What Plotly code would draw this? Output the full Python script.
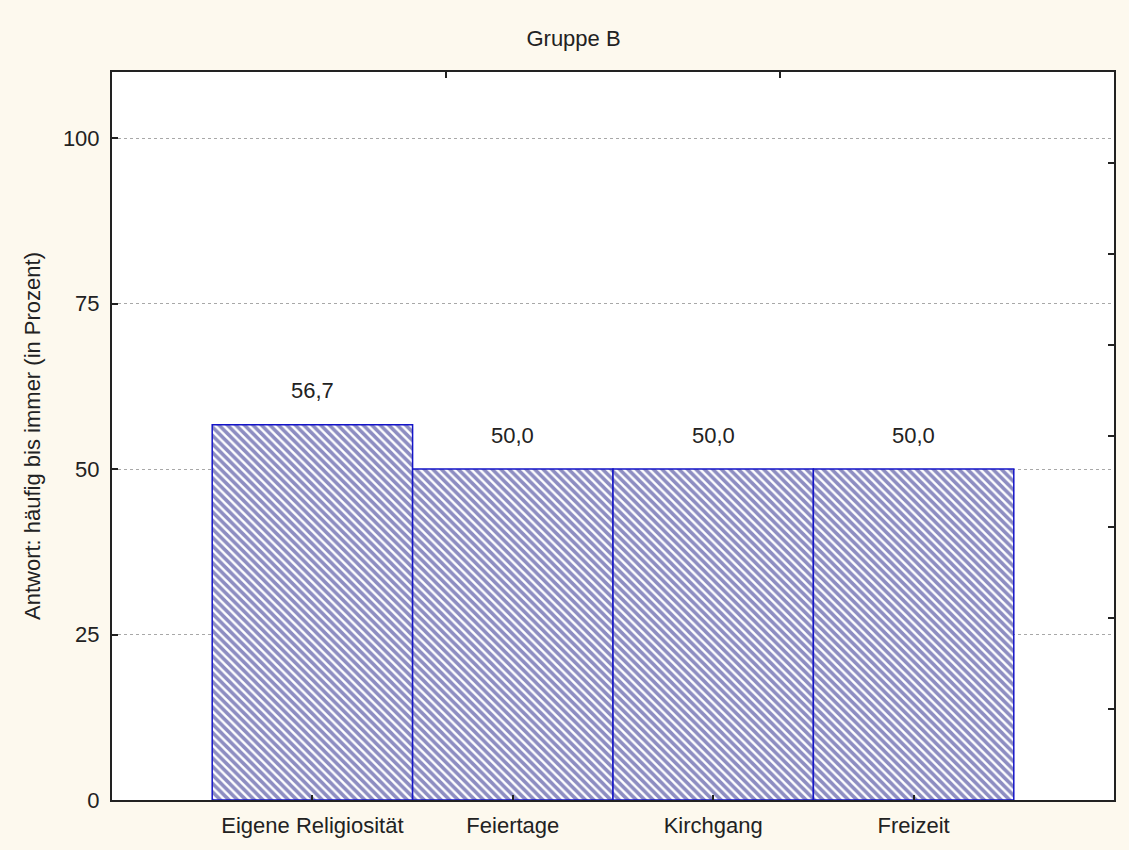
import plotly.graph_objects as go

categories = ["Eigene Religiosität", "Feiertage", "Kirchgang", "Freizeit"]
values = [56.7, 50.0, 50.0, 50.0]
y_ticks = [0, 25, 50, 75, 100]
title_text = "Gruppe B"
y_title = "Antwort: häufig bis immer (in Prozent)"

FONT = "Liberation Sans, Arial, sans-serif"
BG = "#fdf9ee"
TXT = "#222222"
FS = 22

fig = go.Figure()
fig.add_trace(go.Bar(
    x=list(range(len(categories))),
    y=values,
    width=1.0,
    marker=dict(
        color="white",
        line=dict(color="#1414c8", width=1.5),
        pattern=dict(shape="\\", fgcolor="#1c1c84", bgcolor="white", size=6, solidity=0.6, fillmode="overlay"),
    ),
    hoverinfo="skip",
))

for i, v in enumerate(values):
    fig.add_annotation(
        x=i, y=v, xref="x", yref="y",
        text=f"{v:.1f}".replace(".", ","),
        showarrow=False, yanchor="middle", yshift=34,
        font=dict(family=FONT, size=FS, color=TXT),
    )

# helper trace so the mirrored top/right tick axes render
fig.add_trace(go.Scatter(x=[], y=[], xaxis="x2", yaxis="y2", showlegend=False, hoverinfo="skip"))

fig.update_layout(
    width=1129, height=850,
    paper_bgcolor=BG, plot_bgcolor="white",
    margin=dict(l=112, r=15, t=72, b=48),
    showlegend=False,
    title=dict(text=title_text, x=0.508, xanchor="center", y=1 - 38 / 850, yanchor="middle",
               font=dict(family=FONT, size=FS, color=TXT)),
    font=dict(family=FONT, size=FS, color=TXT),
    xaxis=dict(
        range=[-1, 4], tickmode="array", tickvals=list(range(len(categories))), ticktext=categories,
        ticks="inside", ticklen=5, tickcolor="#222", tickwidth=1.5, ticklabelstandoff=5,
        showgrid=False, zeroline=False, showline=True, mirror=True, linecolor="#222", linewidth=2,
        tickfont=dict(family=FONT, size=FS, color=TXT),
    ),
    yaxis=dict(
        range=[0, 110], tickmode="array", tickvals=y_ticks,
        ticks="inside", ticklen=6, tickcolor="#222", tickwidth=1.5, ticklabelstandoff=6,
        showgrid=True, gridcolor="#a8a8a8", griddash="dot", gridwidth=1,
        zeroline=False, showline=True, mirror=True, linecolor="#222", linewidth=2,
        tickfont=dict(family=FONT, size=FS, color=TXT),
        title=dict(text=y_title, font=dict(family=FONT, size=FS, color=TXT), standoff=16),
    ),
    xaxis2=dict(
        overlaying="x", side="top", anchor="y", range=[0, 3], tickmode="array", tickvals=[1, 2],
        ticks="inside", ticklen=6, tickcolor="#222", tickwidth=1.5, showticklabels=False,
        showgrid=False, zeroline=False, showline=False,
    ),
    yaxis2=dict(
        overlaying="y", side="right", anchor="x", range=[0, 8], tickmode="array", tickvals=[1, 2, 3, 4, 5, 6, 7],
        ticks="inside", ticklen=6, tickcolor="#222", tickwidth=1.5, showticklabels=False,
        showgrid=False, zeroline=False, showline=False,
    ),
)

fig.write_html("out.html", config={"displayModeBar": False},
               post_script="document.body.style.margin='0px';")
